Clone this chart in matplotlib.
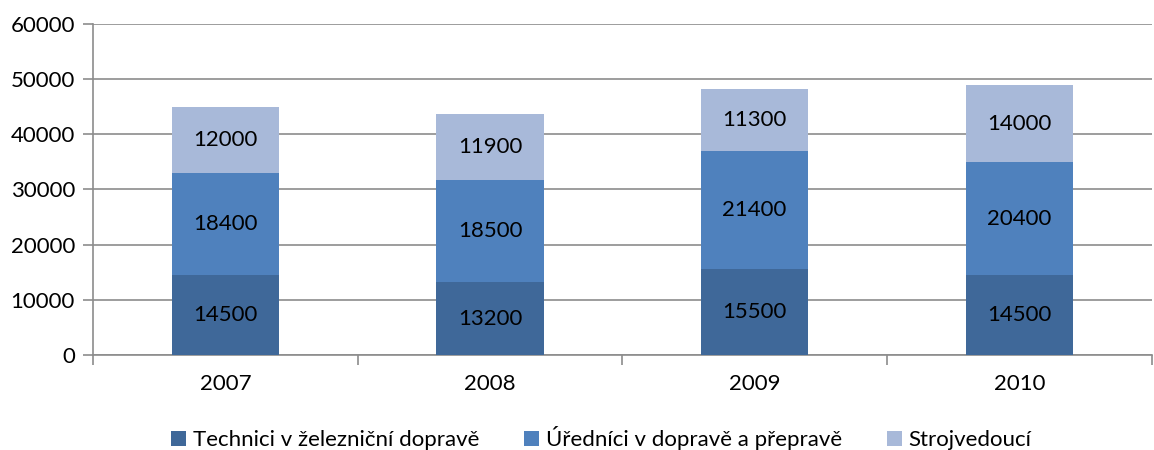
import matplotlib.pyplot as plt
import numpy as np

years = ["2007", "2008", "2009", "2010"]
technici = [14500, 13200, 15500, 14500]
urednici = [18400, 18500, 21400, 20400]
strojvedouci = [12000, 11900, 11300, 14000]
labels = ["Technici v železniční dopravě", "Úředníci v dopravě a přepravě", "Strojvedoucí"]
colors = ["#3F6899", "#4F81BD", "#A8B9D9"]

plt.rcParams["font.family"] = ["Lato", "DejaVu Sans"]

fig = plt.figure(figsize=(11.54, 4.5), dpi=100)
ax = fig.add_axes([0.0806, 0.211, 0.9174, 0.736])

x = np.arange(len(years))
bottom = np.zeros(len(years))
for vals, lab, col in zip([technici, urednici, strojvedouci], labels, colors):
    bars = ax.bar(x, vals, width=0.405, bottom=bottom, color=col, label=lab, zorder=3)
    ax.bar_label(bars, labels=[str(v) for v in vals], label_type="center", fontsize=16, color="black")
    bottom += np.array(vals)

ax.set_xlim(-0.5, len(years) - 0.5)
ax.set_ylim(0, 60000)
ax.set_yticks(range(0, 60001, 10000))
ax.grid(axis="y", color="#8C8C8C", linewidth=1.2, zorder=0)
ax.set_xticks(x)
ax.set_xticklabels(years)
ax.set_xticks(np.arange(-0.5, len(years)), minor=True)
ax.tick_params(axis="x", which="major", length=0, pad=14, labelsize=16)
ax.tick_params(axis="x", which="minor", length=7, width=1.2, color="#8C8C8C")
ax.tick_params(axis="y", length=7, width=1.2, color="#8C8C8C", labelsize=16, pad=6)
for s in ["top", "right"]:
    ax.spines[s].set_visible(False)
for s in ["left", "bottom"]:
    ax.spines[s].set_color("#8C8C8C")
    ax.spines[s].set_linewidth(1.2)

fig.legend(loc="lower center", bbox_to_anchor=(0.521, -0.045), ncol=3, frameon=False,
           fontsize=16, handlelength=0.7, handleheight=0.7, handletextpad=0.3, columnspacing=2.0)

fig.savefig("out.png", dpi=100)
